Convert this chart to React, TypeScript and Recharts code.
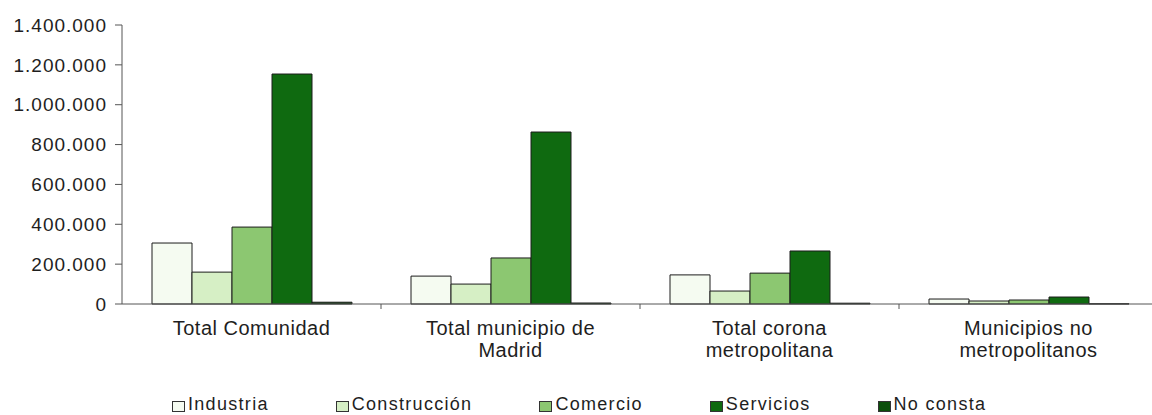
import React from 'react';
import { BarChart, Bar, XAxis, YAxis } from 'recharts';

const categories = [
  'Total Comunidad',
  'Total municipio de\nMadrid',
  'Total corona\nmetropolitana',
  'Municipios no\nmetropolitanos',
];

const industria = [306000, 140000, 146000, 25000];
const construccion = [160000, 100000, 65000, 15000];
const comercio = [386000, 231000, 155000, 20000];
const servicios = [1154000, 863000, 266000, 35000];
const noConsta = [9000, 5000, 4000, 1000];

const yTicks = [0, 200000, 400000, 600000, 800000, 1000000, 1200000, 1400000];

const series = [
  { key: 'industria', name: 'Industria', values: industria, color: '#f5fbf1' },
  { key: 'construccion', name: 'Construcción', values: construccion, color: '#d6efc5' },
  { key: 'comercio', name: 'Comercio', values: comercio, color: '#8cc771' },
  { key: 'servicios', name: 'Servicios', values: servicios, color: '#0f6a10' },
  { key: 'noConsta', name: 'No consta', values: noConsta, color: '#0b4f0b' },
];

const data = categories.map((cat, i) => {
  const row: Record<string, string | number> = { cat };
  series.forEach(s => { row[s.key] = s.values[i]; });
  return row;
});

const font = '"Liberation Sans", Arial, Helvetica, sans-serif';

const fmt = (v: number) => String(v).replace(/\B(?=(\d{3})+(?!\d))/g, '.');

// category label plus a small tick at the left edge of the band
const CatTick = (props: any) => {
  const { x, y, payload, index } = props;
  const half = payload && payload.offset ? payload.offset : 129.5;
  const lines = String(payload.value).split('\n');
  return (
    <g>
      {index > 0 && <line x1={x - half} x2={x - half} y1={y} y2={y + 5} stroke="#555" />}
      <text x={x} y={y} textAnchor="middle" fill="#1e1e1e" fontSize={20} fontFamily={font} letterSpacing={0.5}>
        {lines.map((l, i) => (
          <tspan key={i} x={x} dy={i === 0 ? 31 : 22}>{l}</tspan>
        ))}
      </text>
    </g>
  );
};

export default function App() {
  return (
    <div style={{ position: 'absolute', left: 0, top: 0, width: 1152, height: 415, background: '#fff', overflow: 'hidden' }}>
      <BarChart
        width={1152}
        height={415}
        data={data}
        margin={{ top: 25, right: -6, left: 0, bottom: 51 }}
        barCategoryGap={30}
        barGap={0}
      >
        <XAxis
          dataKey="cat"
          height={60}
          axisLine={{ stroke: '#555' }}
          tickLine={false}
          tickSize={0}
          tickMargin={0}
          interval={0}
          tick={<CatTick />}
        />
        <YAxis
          width={122}
          domain={[0, 1400000]}
          ticks={yTicks}
          tickFormatter={fmt}
          axisLine={{ stroke: '#555' }}
          tickLine={{ stroke: '#555' }}
          tickSize={7}
          tickMargin={8}
          tick={{ fill: '#1e1e1e', fontSize: 19, fontFamily: font, letterSpacing: 1 }}
        />
        {series.map(s => (
          <Bar
            key={s.key}
            dataKey={s.key}
            name={s.name}
            fill={s.color}
            stroke="#1c1c1c"
            strokeWidth={1}
            isAnimationActive={false}
          />
        ))}
      </BarChart>
      <div
        style={{
          position: 'absolute',
          left: 172,
          top: 395,
          display: 'flex',
          gap: 67,
          fontFamily: font,
          fontSize: 18,
          letterSpacing: 1.3,
          color: '#1e1e1e',
          lineHeight: '18px',
          whiteSpace: 'nowrap',
        }}
      >
        {series.map(s => (
          <div key={s.key} style={{ display: 'flex', alignItems: 'center' }}>
            <span
              style={{
                display: 'inline-block',
                width: 11,
                height: 9,
                background: s.color,
                border: '1px solid #333',
                marginRight: 3,
                marginTop: 5,
              }}
            />
            <span>{s.name}</span>
          </div>
        ))}
      </div>
    </div>
  );
}
